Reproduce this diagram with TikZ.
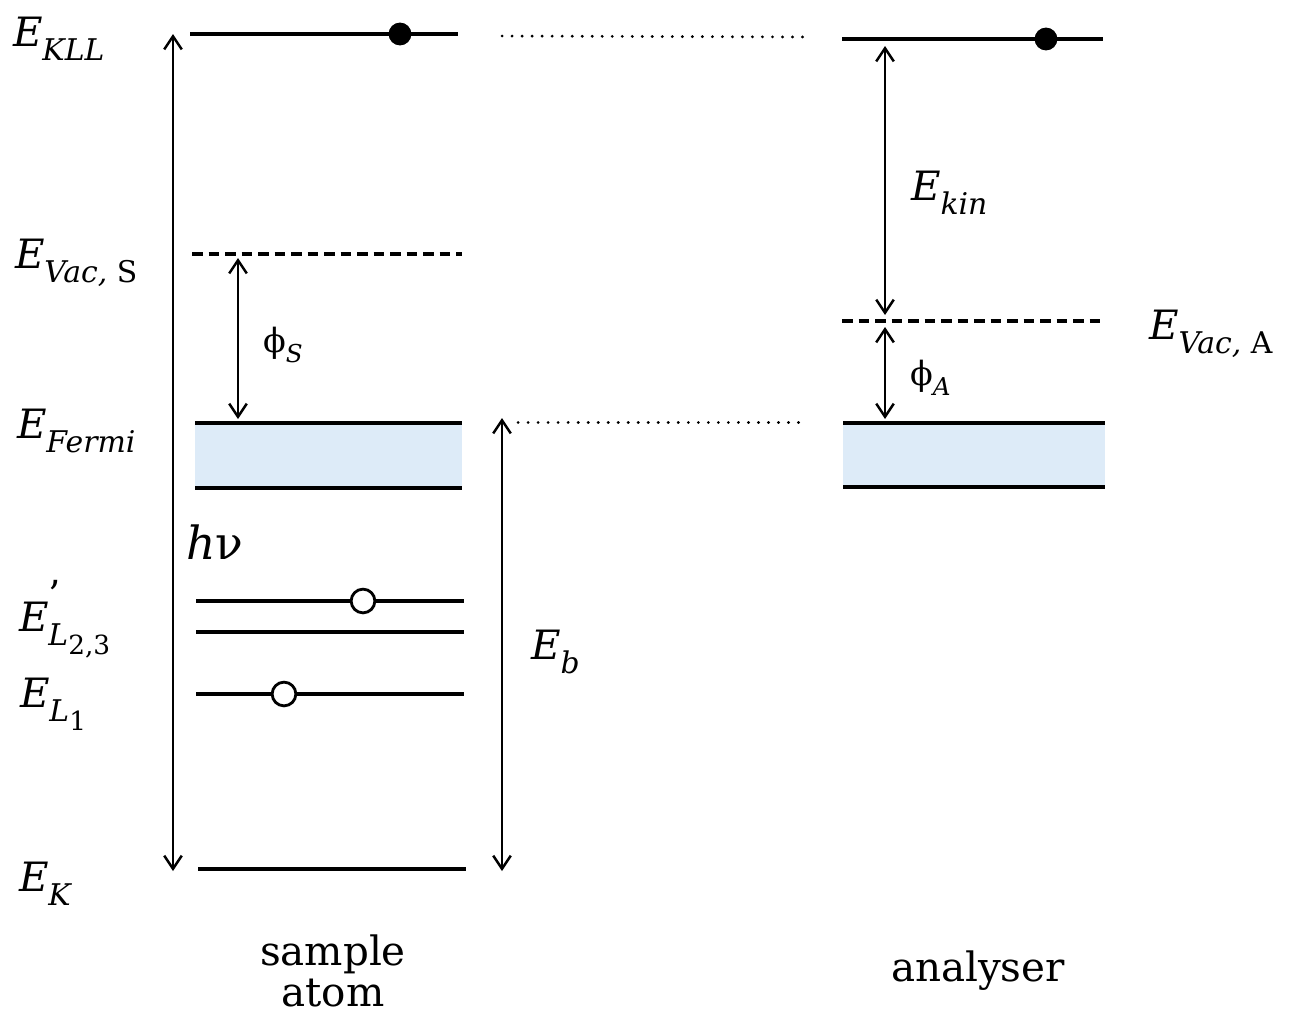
\documentclass[tikz,border=0pt]{standalone}
\usepackage{fontspec}
\setmainfont{DejaVu Serif}
\usetikzlibrary{arrows.meta}
\definecolor{bandblue}{RGB}{221,235,248}
\newcommand{\bigE}{\fontsize{23}{26}\selectfont\textit{E}}
\newcommand{\subs}[1]{\raisebox{-0.36em}{\fontsize{17}{19}\selectfont #1}}
\begin{document}
\begin{tikzpicture}[x=0.02cm,y=-0.02cm,
  level/.style={line width=2.3pt},
  dashlevel/.style={line width=2pt, dash pattern=on 6pt off 3.4pt},
  guide/.style={line width=1.7pt, dash pattern=on 0.1pt off 5.6pt, line cap=round},
  dbl/.style={line width=1.15pt, {Straight Barb[length=7.5pt,width=10pt,line width=1.4pt]}-{Straight Barb[length=7.5pt,width=10pt,line width=1.4pt]}},
  elec/.style={circle, fill=black, minimum size=13pt, inner sep=0pt},
  hole/.style={circle, draw, line width=1.6pt, fill=white, minimum size=13.5pt, inner sep=0pt},
  lab/.style={anchor=base west, inner sep=0pt, outer sep=0pt},
  captext/.style={anchor=base, inner sep=0pt, font=\fontsize{23}{25}\selectfont}
]
\useasboundingbox (0,0) rectangle (1296,1015);

% ---------- sample side levels ----------
\coordinate (kllSa) at (190,34);  \coordinate (kllSb) at (458,34);
\coordinate (vacSa) at (192,254); \coordinate (vacSb) at (462,254);
\coordinate (ferSa) at (195,423); \coordinate (ferSb) at (462,423);
\coordinate (botSa) at (195,488); \coordinate (botSb) at (462,488);
\coordinate (l3a) at (196,601); \coordinate (l3b) at (464,601);
\coordinate (l2a) at (196,632); \coordinate (l2b) at (464,632);
\coordinate (l1a) at (196,694); \coordinate (l1b) at (464,694);
\coordinate (kSa) at (198,869); \coordinate (kSb) at (466,869);

\fill[bandblue] (ferSa) rectangle (botSb);
\draw[level] (kllSa) -- (kllSb);
\draw[dashlevel] (vacSa) -- (vacSb);
\draw[level] (ferSa) -- (ferSb);
\draw[level] (botSa) -- (botSb);
\draw[level] (l3a) -- (l3b);
\draw[level] (l2a) -- (l2b);
\draw[level] (l1a) -- (l1b);
\draw[level] (kSa) -- (kSb);
\node[elec] (eS) at (400,34) {};
\node[hole] (h3) at (363,601) {};
\node[hole] (h1) at (284,694) {};

% ---------- analyser side levels ----------
\coordinate (kllAa) at (842,39);  \coordinate (kllAb) at (1103,39);
\coordinate (vacAa) at (842,321); \coordinate (vacAb) at (1105,321);
\coordinate (ferAa) at (843,423); \coordinate (ferAb) at (1105,423);
\coordinate (botAa) at (843,487); \coordinate (botAb) at (1105,487);
\fill[bandblue] (ferAa) rectangle (botAb);
\draw[level] (kllAa) -- (kllAb);
\draw[dashlevel] (vacAa) -- (vacAb);
\draw[level] (ferAa) -- (ferAb);
\draw[level] (botAa) -- (botAb);
\node[elec] (eA) at (1046,39) {};

% ---------- dotted guides ----------
\coordinate (g1a) at (502,36); \coordinate (g1b) at (808,37);
\coordinate (g2a) at (518,422); \coordinate (g2b) at (808,422);
\draw[guide] (g1a) -- (g1b);
\draw[guide] (g2a) -- (g2b);

% ---------- arrows ----------
\coordinate (hvT) at (173,34);  \coordinate (hvB) at (173,871);
\coordinate (phST) at (238,258); \coordinate (phSB) at (238,419);
\coordinate (ebT) at (502,418); \coordinate (ebB) at (502,871);
\coordinate (ekT) at (885,46);  \coordinate (ekB) at (885,315);
\coordinate (phAT) at (885,327); \coordinate (phAB) at (885,419);
\draw[dbl] (hvT) -- (hvB);
\draw[dbl] (phST) -- (phSB);
\draw[dbl] (ebT) -- (ebB);
\draw[dbl] (ekT) -- (ekB);
\draw[dbl] (phAT) -- (phAB);

% ---------- labels ----------
\node[lab] (tKLL) at (13,46) {\bigE\subs{\textit{KLL}}};
\node[lab] (tVacS) at (15,268) {\bigE\subs{\textit{Vac,} S}};
\node[lab] (tFermi) at (17,438) {\bigE\subs{\textit{Fermi}}};
\node[lab] (tL23) at (19,631) {\bigE\rlap{\raisebox{0.55em}{\fontsize{22}{24}\selectfont ’}}\raisebox{-0.36em}{\fontsize{17}{19}\selectfont\textit{L}\raisebox{-0.3em}{\fontsize{15}{17}\selectfont 2,3}}};
\node[lab] (tL1) at (20,707) {\bigE\raisebox{-0.36em}{\fontsize{17}{19}\selectfont\textit{L}\raisebox{-0.3em}{\fontsize{15}{17}\selectfont 1}}};
\node[lab] (tK) at (19,891) {\bigE\subs{\textit{K}}};
\node[lab] (thv) at (186,559) {\fontsize{26}{28}\selectfont\textit{h}ν};
\node[lab] (tphS) at (263,352) {\fontsize{19}{21}\selectfont ϕ\raisebox{-0.3em}{\fontsize{14}{16}\selectfont\textit{S}}};
\node[lab] (tphA) at (910,385) {\fontsize{19}{21}\selectfont ϕ\raisebox{-0.3em}{\fontsize{14}{16}\selectfont\textit{A}}};
\node[lab] (tEb) at (531,659) {\bigE\subs{\textit{b}}};
\node[lab] (tEkin) at (911,200) {\bigE\subs{\textit{kin}}};
\node[lab] (tVacA) at (1149,339) {\bigE\subs{\textit{Vac,} A}};
\node[captext] (tsample) at (333,965) {sample};
\node[captext] (tatom) at (333,1006) {atom};
\node[captext] (tanal) at (978,981) {analyser};
\end{tikzpicture}
\end{document}
